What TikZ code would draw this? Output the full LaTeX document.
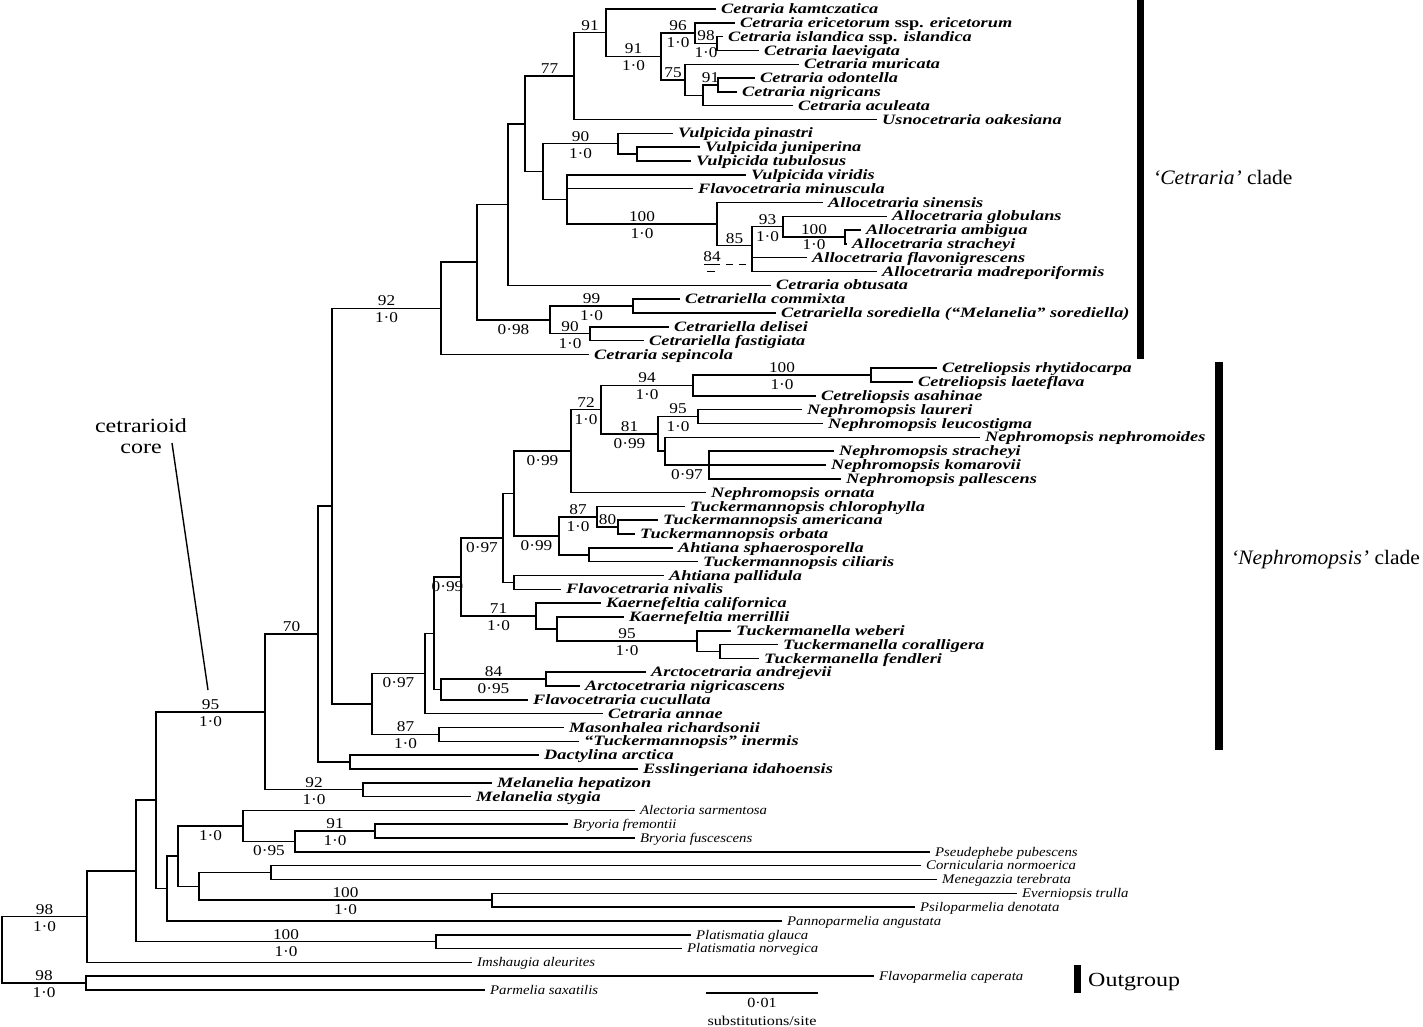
\documentclass[tikz,border=0pt]{standalone}
\usepackage{fontspec}
\setmainfont{Liberation Serif}
\newfontfamily\TaxBoldFam[FakeStretch=1.28]{Liberation Serif}
\newfontfamily\TaxItFam[FakeStretch=1.12]{Liberation Serif}
\newfontfamily\NumFam[FakeStretch=1.15]{Liberation Serif}
\newfontfamily\ClFam[FakeStretch=1.05]{Liberation Serif}
\newfontfamily\CoreFam[FakeStretch=1.2]{Liberation Serif}
\usetikzlibrary{calc}

\newcommand\TBF{\TaxBoldFam\fontsize{14.3}{16}\bfseries\itshape}
\newcommand\TIF{\TaxItFam\fontsize{13.2}{15}\itshape}
\newcommand\NUMF{\NumFam\fontsize{15}{17}\selectfont}

\newcounter{labc}
\newcommand\TaxLeaf[5]{\coordinate (#1) at (#3,{9+(#2-1)*13.817}); \node[#4] (#1-l) at (#1) {#5};}
\newcommand\Clade[4]{\path let \p1=(#3), \p2=(#4) in (#2pt,{0.5*(\y1+\y2)}) coordinate (#1);
  \draw[br] (#1) |- (#3); \draw[br] (#1) |- (#4);}
\newcommand\Extra[2]{\draw[br] (#1) |- (#2);}
\newcommand\SupA[3]{\stepcounter{labc}\path ($(#1|-#2)!.5!(#2)$) node[sup,yshift=7.5pt] (lab\arabic{labc}) {#3};}
\newcommand\SupB[3]{\stepcounter{labc}\path ($(#1|-#2)!.5!(#2)$) node[sup,yshift=-9.5pt] (lab\arabic{labc}) {#3};}

\tikzset{
  br/.style={line width=1.5pt, line cap=rect},
  tb/.style={font=\TBF, anchor=base west, inner sep=0pt, xshift=6pt, yshift=-4.6pt},
  ti/.style={font=\TIF, anchor=base west, inner sep=0pt, xshift=6pt, yshift=-4.3pt},
  sup/.style={font=\NUMF, inner sep=0pt},
  cladetext/.style={font=\ClFam\fontsize{20.5}{22}\selectfont, anchor=base west, inner sep=0pt},
  coretext/.style={font=\CoreFam\fontsize{20}{22}\selectfont, anchor=base, inner sep=0pt},
  bar/.style={fill=black, draw=none},
}

\begin{document}
\begin{tikzpicture}[x=1pt,y=-1pt]
\fill[white] (0,0) rectangle (1423,1027);
\useasboundingbox (0,0) rectangle (1423,1027);

% ---------------- leaves ----------------
\TaxLeaf{t1}{1}{715}{tb}{Cetraria kamtczatica}
\TaxLeaf{t2}{2}{734}{tb}{Cetraria ericetorum {\upshape ssp.} ericetorum}
\TaxLeaf{t3}{3}{722}{tb}{Cetraria islandica {\upshape ssp.} islandica}
\TaxLeaf{t4}{4}{758}{tb}{Cetraria laevigata}
\TaxLeaf{t5}{5}{798}{tb}{Cetraria muricata}
\TaxLeaf{t6}{6}{754}{tb}{Cetraria odontella}
\TaxLeaf{t7}{7}{736}{tb}{Cetraria nigricans}
\TaxLeaf{t8}{8}{792}{tb}{Cetraria aculeata}
\TaxLeaf{t9}{9}{876}{tb}{Usnocetraria oakesiana}
\TaxLeaf{t10}{10}{672}{tb}{Vulpicida pinastri}
\TaxLeaf{t11}{11}{699}{tb}{Vulpicida juniperina}
\TaxLeaf{t12}{12}{690}{tb}{Vulpicida tubulosus}
\TaxLeaf{t13}{13}{745}{tb}{Vulpicida viridis}
\TaxLeaf{t14}{14}{692}{tb}{Flavocetraria minuscula}
\TaxLeaf{t15}{15}{822}{tb}{Allocetraria sinensis}
\TaxLeaf{t16}{16}{886}{tb}{Allocetraria globulans}
\TaxLeaf{t17}{17}{860}{tb}{Allocetraria ambigua}
\TaxLeaf{t18}{18}{846}{tb}{Allocetraria stracheyi}
\TaxLeaf{t19}{19}{806}{tb}{Allocetraria flavonigrescens}
\TaxLeaf{t20}{20}{876}{tb}{Allocetraria madreporiformis}
\TaxLeaf{t21}{21}{770}{tb}{Cetraria obtusata}
\TaxLeaf{t22}{22}{679}{tb}{Cetrariella commixta}
\TaxLeaf{t23}{23}{775}{tb}{Cetrariella sorediella (“Melanelia” sorediella)}
\TaxLeaf{t24}{24}{668}{tb}{Cetrariella delisei}
\TaxLeaf{t25}{25}{643}{tb}{Cetrariella fastigiata}
\TaxLeaf{t26}{26}{588}{tb}{Cetraria sepincola}
\TaxLeaf{t27}{27}{936}{tb}{Cetreliopsis rhytidocarpa}
\TaxLeaf{t28}{28}{912}{tb}{Cetreliopsis laeteflava}
\TaxLeaf{t29}{29}{815}{tb}{Cetreliopsis asahinae}
\TaxLeaf{t30}{30}{801}{tb}{Nephromopsis laureri}
\TaxLeaf{t31}{31}{822}{tb}{Nephromopsis leucostigma}
\TaxLeaf{t32}{32}{979}{tb}{Nephromopsis nephromoides}
\TaxLeaf{t33}{33}{833}{tb}{Nephromopsis stracheyi}
\TaxLeaf{t34}{34}{825}{tb}{Nephromopsis komarovii}
\TaxLeaf{t35}{35}{840}{tb}{Nephromopsis pallescens}
\TaxLeaf{t36}{36}{705}{tb}{Nephromopsis ornata}
\TaxLeaf{t37}{37}{684}{tb}{Tuckermannopsis chlorophylla}
\TaxLeaf{t38}{38}{657}{tb}{Tuckermannopsis americana}
\TaxLeaf{t39}{39}{634}{tb}{Tuckermannopsis orbata}
\TaxLeaf{t40}{40}{672}{tb}{Ahtiana sphaerosporella}
\TaxLeaf{t41}{41}{697}{tb}{Tuckermannopsis ciliaris}
\TaxLeaf{t42}{42}{663}{tb}{Ahtiana pallidula}
\TaxLeaf{t43}{43}{560}{tb}{Flavocetraria nivalis}
\TaxLeaf{t44}{44}{600}{tb}{Kaernefeltia californica}
\TaxLeaf{t45}{45}{623}{tb}{Kaernefeltia merrillii}
\TaxLeaf{t46}{46}{730}{tb}{Tuckermanella weberi}
\TaxLeaf{t47}{47}{777}{tb}{Tuckermanella coralligera}
\TaxLeaf{t48}{48}{758}{tb}{Tuckermanella fendleri}
\TaxLeaf{t49}{49}{645}{tb}{Arctocetraria andrejevii}
\TaxLeaf{t50}{50}{579}{tb}{Arctocetraria nigricascens}
\TaxLeaf{t51}{51}{527}{tb}{Flavocetraria cucullata}
\TaxLeaf{t52}{52}{602}{tb}{Cetraria annae}
\TaxLeaf{t53}{53}{563}{tb}{Masonhalea richardsonii}
\TaxLeaf{t54}{54}{578}{tb}{“Tuckermannopsis” inermis}
\TaxLeaf{t55}{55}{538}{tb}{Dactylina arctica}
\TaxLeaf{t56}{56}{637}{tb}{Esslingeriana idahoensis}
\TaxLeaf{t57}{57}{491}{tb}{Melanelia hepatizon}
\TaxLeaf{t58}{58}{470}{tb}{Melanelia stygia}
\TaxLeaf{t59}{59}{634}{ti}{Alectoria sarmentosa}
\TaxLeaf{t60}{60}{567}{ti}{Bryoria fremontii}
\TaxLeaf{t61}{61}{634}{ti}{Bryoria fuscescens}
\TaxLeaf{t62}{62}{929}{ti}{Pseudephebe pubescens}
\TaxLeaf{t63}{63}{920}{ti}{Cornicularia normoerica}
\TaxLeaf{t64}{64}{936}{ti}{Menegazzia terebrata}
\TaxLeaf{t65}{65}{1016}{ti}{Everniopsis trulla}
\TaxLeaf{t66}{66}{914}{ti}{Psiloparmelia denotata}
\TaxLeaf{t67}{67}{781}{ti}{Pannoparmelia angustata}
\TaxLeaf{t68}{68}{690}{ti}{Platismatia glauca}
\TaxLeaf{t69}{69}{681}{ti}{Platismatia norvegica}
\TaxLeaf{t70}{70}{471}{ti}{Imshaugia aleurites}
\TaxLeaf{t71}{71}{873}{ti}{Flavoparmelia caperata}
\TaxLeaf{t72}{72}{484}{ti}{Parmelia saxatilis}

% ---------------- Cetraria clade ----------------
\Clade{a718}{718}{t6}{t7}
\Clade{a703}{703}{a718}{t8}
\Clade{a685}{685}{t5}{a703}
\Clade{a717}{717}{t3}{t4}
\Clade{a695}{695}{t2}{a717}
\Clade{a661}{661}{a695}{a685}
\Clade{a606}{606}{t1}{a661}
\Clade{a574}{574}{a606}{t9}
\Clade{a637}{637}{t11}{t12}
\Clade{a618}{618}{t10}{a637}
\Clade{a845}{845}{t17}{t18}
\Clade{a783}{783}{t16}{a845}
\Clade{a84}{752}{t19}{t20}
\Clade{a85}{752}{a783}{a84}
\Clade{a717b}{717}{t15}{a85}
\Clade{a567}{567}{t13}{a717b}
\Extra{a567}{t14}
\Clade{a543}{543}{a618}{a567}
\Clade{a525}{525}{a574}{a543}
\Clade{a508}{508}{a525}{t21}
\Clade{a633}{633}{t22}{t23}
\Clade{a590}{590}{t24}{t25}
\Clade{a550}{550}{a633}{a590}
\Clade{a477}{477}{a508}{a550}
\Clade{a441}{441}{a477}{t26}

% ---------------- Nephromopsis clade ----------------
\Clade{b871}{871}{t27}{t28}
\Clade{b693}{693}{b871}{t29}
\Clade{b698}{698}{t30}{t31}
\Clade{b709}{709}{t33}{t35}
\Extra{b709}{t34}
\Clade{b665}{665}{t32}{b709}
\Clade{b658}{658}{b698}{b665}
\Clade{b601}{601}{b693}{b658}
\Clade{b571}{571}{b601}{t36}
\Clade{b618}{618}{t38}{t39}
\Clade{b597}{597}{t37}{b618}
\Clade{b589}{589}{t40}{t41}
\Clade{b559}{559}{b597}{b589}
\Clade{b514}{514}{b571}{b559}
\Clade{b514c}{514}{t42}{t43}
\Clade{b503}{503}{b514}{b514c}
\Clade{b720}{720}{t47}{t48}
\Clade{b697}{697}{t46}{b720}
\Clade{b557}{557}{t45}{b697}
\Clade{b536}{536}{t44}{b557}
\Clade{b461}{461}{b503}{b536}
\Clade{b546}{546}{t49}{t50}
\Clade{b441}{441}{b546}{t51}
\Clade{b434}{434}{b461}{b441}
\Clade{b425}{425}{b434}{t52}
\Clade{b439}{439}{t53}{t54}
\Clade{b372}{372}{b425}{b439}
\Clade{c332}{332}{a441}{b372}
\Clade{c350}{350}{t55}{t56}
\Clade{c318}{318}{c332}{c350}
\Clade{c363}{363}{t57}{t58}
\Clade{c265}{265}{c318}{c363}

% ---------------- outer taxa ----------------
\Clade{d375}{375}{t60}{t61}
\Clade{d295}{295}{d375}{t62}
\Clade{d243}{243}{t59}{d295}
\Clade{d271}{271}{t63}{t64}
\Clade{d492}{492}{t65}{t66}
\Clade{d199}{199}{d271}{d492}
\Clade{d178}{178}{d243}{d199}
\Clade{d167}{167}{d178}{t67}
\Clade{c156}{156}{c265}{d167}
\Clade{d436}{436}{t68}{t69}
\Clade{c136}{136}{c156}{d436}
\Clade{c87}{87}{c136}{t70}
\Clade{o86}{86}{t71}{t72}
\Clade{root}{2}{c87}{o86}

% ---------------- support values ----------------
\SupA{a574}{a606}{91}
\SupA{a606}{a661}{91} \SupB{a606}{a661}{1·0}
\SupA{a661}{a695}{96} \SupB{a661}{a695}{1·0}
\SupA{a695}{a717}{98} \SupB{a695}{a717}{1·0}
\SupA{a661}{a685}{75}
\SupA{a703}{a718}{91}
\SupA{a525}{a574}{77}
\SupA{a543}{a618}{90} \SupB{a543}{a618}{1·0}
\SupA{a567}{a717b}{100} \SupB{a567}{a717b}{1·0}
\SupA{a85}{a783}{93} \SupB{a85}{a783}{1·0}
\SupA{a783}{a845}{100}
\path ($(a783|-a845)!.5!(a845)$) node[sup,yshift=-8pt] (lab845b) {1·0};
\SupA{a717b}{a85}{85}
\SupA{a550}{a633}{99} \SupB{a550}{a633}{1·0}
\SupA{a550}{a590}{90} \SupB{a550}{a590}{1·0}
\SupB{a477}{a550}{0·98}
\SupA{c332}{a441}{92} \SupB{c332}{a441}{1·0}

\node[sup] (lab84) at (712,256.5) {84};
\coordinate (u1) at (704,264.5); \coordinate (u2) at (720,264.5);
\coordinate (u3) at (726,264.5); \coordinate (u4) at (733,264.5);
\coordinate (u5) at (739,264.5); \coordinate (u6) at (746,264.5);
\coordinate (u7) at (707,271.5); \coordinate (u8) at (715,271.5);
\draw[line width=1pt] (u1) -- (u2) (u3) -- (u4) (u5) -- (u6) (u7) -- (u8);

\SupA{b693}{b871}{100} \SupB{b693}{b871}{1·0}
\SupA{b601}{b693}{94} \SupB{b601}{b693}{1·0}
\SupA{b571}{b601}{72} \SupB{b571}{b601}{1·0}
\SupA{b658}{b698}{95} \SupB{b658}{b698}{1·0}
\SupA{b601}{b658}{81} \SupB{b601}{b658}{0·99}
\SupB{b665}{b709}{0·97}
\SupB{b514}{b571}{0·99}
\SupA{b559}{b597}{87} \SupB{b559}{b597}{1·0}
\SupA{b597}{b618}{80}
\SupB{b514}{b559}{0·99}
\SupB{b461}{b503}{0·97}
\SupB{b434}{b461}{0·99}
\SupA{b461}{b536}{71} \SupB{b461}{b536}{1·0}
\SupA{b557}{b697}{95} \SupB{b557}{b697}{1·0}
\SupA{b441}{b546}{84} \SupB{b441}{b546}{0·95}
\SupB{b372}{b425}{0·97}
\SupA{b372}{b439}{87} \SupB{b372}{b439}{1·0}
\SupA{c265}{c318}{70}
\SupA{c156}{c265}{95} \SupB{c156}{c265}{1·0}
\SupA{c265}{c363}{92} \SupB{c265}{c363}{1·0}

\SupB{d178}{d243}{1·0}
\SupA{d295}{d375}{91} \SupB{d295}{d375}{1·0}
\SupB{d243}{d295}{0·95}
\SupA{d199}{d492}{100} \SupB{d199}{d492}{1·0}
\SupA{c136}{d436}{100} \SupB{c136}{d436}{1·0}
\SupA{root}{c87}{98} \SupB{root}{c87}{1·0}
\SupA{root}{o86}{98} \SupB{root}{o86}{1·0}

% ---------------- clade bars and labels ----------------
\fill[bar] (1137,0) rectangle (1144,359);
\node[cladetext] (cetlab) at (1153,184.5) {\textit{‘Cetraria’} clade};
\fill[bar] (1215,362) rectangle (1223,750);
\node[cladetext] (neplab) at (1231,564.5) {\textit{‘Nephromopsis’} clade};
\fill[bar] (1074,965) rectangle (1081,993);
\node[coretext, anchor=base west] (outlab) at (1088,986) {Outgroup};

% cetrarioid core
\node[coretext] (core1) at (141,432) {cetrarioid};
\node[coretext] (core2) at (141,453) {core};
\coordinate (lt) at (172,443);
\coordinate (lb) at (208,690);
\draw[line width=1.4pt] (lt) -- (lb);

% scale bar
\coordinate (sb1) at (706,993);
\coordinate (sb2) at (818,993);
\draw[line width=1.5pt] (sb1) -- (sb2);
\node[font=\NumFam\fontsize{14}{16}\selectfont, inner sep=0pt] (sbt) at (762,1002.5) {0·01};
\node[font=\CoreFam\fontsize{13.5}{15}\selectfont, inner sep=0pt] (sbu) at (762,1020.5) {substitutions/site};
\end{tikzpicture}
\end{document}
